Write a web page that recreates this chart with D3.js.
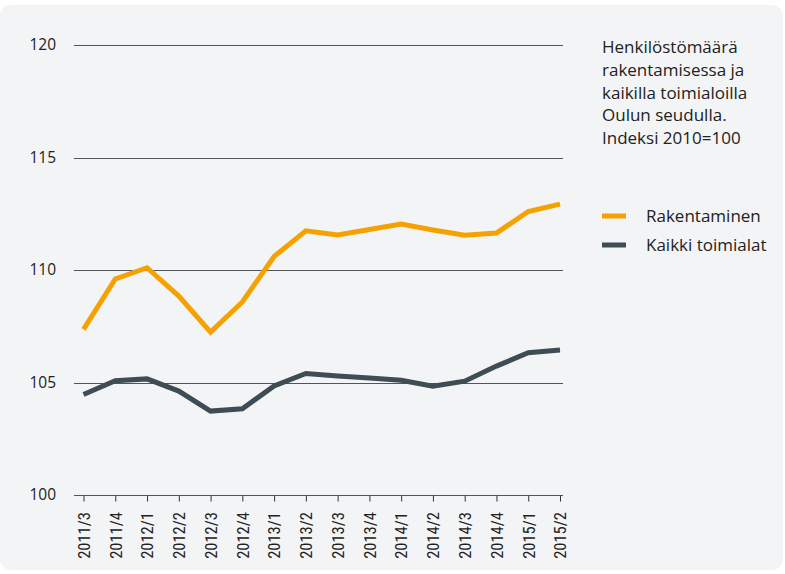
<!DOCTYPE html>
<html><head><meta charset="utf-8">
<script src="https://cdn.jsdelivr.net/npm/d3@7"></script>
<style>
html,body{margin:0;padding:0;background:#fff;}
svg{display:block;}
</style></head>
<body>
<svg id="c" width="785" height="574"></svg>
<script>
const categories = ["2011/3","2011/4","2012/1","2012/2","2012/3","2012/4","2013/1","2013/2","2013/3","2013/4","2014/1","2014/2","2014/3","2014/4","2015/1","2015/2"];
const rakentaminen = [107.36, 109.6, 110.1, 108.84, 107.24, 108.58, 110.6, 111.74, 111.56, 111.8, 112.04, 111.78, 111.55, 111.64, 112.6, 112.93];
const kaikki = [104.47, 105.08, 105.16, 104.62, 103.73, 103.83, 104.85, 105.4, 105.29, 105.2, 105.1, 104.84, 105.06, 105.73, 106.32, 106.44];
const yTicks = [100, 105, 110, 115, 120];
const seriesNames = ["Rakentaminen", "Kaikki toimialat"];
const seriesColors = ["#f5a100", "#3e4c53"];
const titleLines = ["Henkilöstömäärä", "rakentamisessa ja", "kaikilla toimialoilla", "Oulun seudulla.", "Indeksi 2010=100"];

const svg = d3.select("#c");
const font = "'Open Sans', sans-serif";

svg.append("rect").attr("x", 0).attr("y", 5).attr("width", 783).attr("height", 565)
  .attr("rx", 11).attr("fill", "#f3f4f6");

const x = d3.scalePoint().domain(categories).range([83.5, 560]);
const y = d3.scaleLinear().domain([100, 120]).range([495, 45]);

// gridlines
svg.append("g").selectAll("line").data(yTicks.filter(d => d > 100)).join("line")
  .attr("x1", 74).attr("x2", 563)
  .attr("y1", d => Math.round(y(d)) + 0.5).attr("y2", d => Math.round(y(d)) + 0.5)
  .attr("stroke", "#555").attr("stroke-width", 1.2);

// y labels
svg.append("g").selectAll("text").data(yTicks).join("text")
  .attr("x", 56).attr("y", d => y(d)).attr("dy", "0.35em")
  .attr("text-anchor", "end").attr("font-family", font).attr("font-size", 15.5)
  .attr("fill", "#222").text(d => d);

// x axis
const xAxis = d3.axisBottom(x).tickSize(6).tickSizeOuter(0);
const gx = svg.append("g").attr("transform", "translate(0,495.5)").call(xAxis);
gx.select(".domain").attr("d", "M74,0H563").attr("stroke", "#555").attr("stroke-width", 1.2);
gx.selectAll(".tick line").attr("stroke", "#333");
gx.selectAll(".tick text")
  .attr("font-family", "'Liberation Sans Narrow', 'Roboto Condensed', sans-serif")
  .attr("font-size", 16.5).attr("fill", "#222")
  .attr("transform", "rotate(-90)")
  .attr("text-anchor", "end").attr("x", -16.5).attr("y", 0).attr("dy", "0.35em");

// lines
const line = d3.line().x((d, i) => x(categories[i])).y(d => y(d));
[rakentaminen, kaikki].forEach((s, k) => {
  svg.append("path").datum(s).attr("d", line).attr("fill", "none")
    .attr("stroke", seriesColors[k]).attr("stroke-width", 5).attr("stroke-linejoin", "miter");
});

// legend title
svg.append("g").selectAll("text").data(titleLines).join("text")
  .attr("x", 602).attr("y", (d, i) => 47 + i * 22.8).attr("dy", "0.35em")
  .attr("font-family", font).attr("font-size", 17).attr("fill", "#222").text(d => d);

// legend items
const lg = svg.append("g").selectAll("g").data(seriesNames).join("g")
  .attr("transform", (d, i) => `translate(602,${216 + i * 29})`);
lg.append("line").attr("x1", 0).attr("x2", 24).attr("y1", 0).attr("y2", 0)
  .attr("stroke", (d, i) => seriesColors[i]).attr("stroke-width", 5);
lg.append("text").attr("x", 44).attr("y", 0).attr("dy", "0.35em")
  .attr("font-family", font).attr("font-size", 17).attr("fill", "#222").text(d => d);
</script>
</body></html>
